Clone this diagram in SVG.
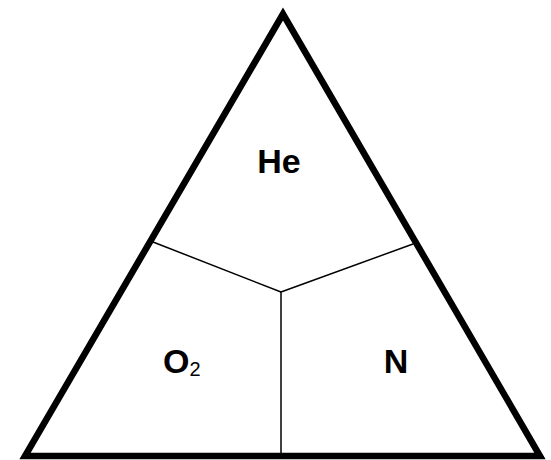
<svg xmlns="http://www.w3.org/2000/svg" width="551" height="460" viewBox="0 0 551 460">
<style>
.tri{fill:none;stroke:#000;stroke-width:6.5;stroke-linejoin:miter}
.div{fill:none;stroke:#000;stroke-width:1.5}
.lbl{font-family:"Liberation Sans",Arial,sans-serif;font-weight:bold;font-size:34px;fill:#000}
.sub{font-size:20px;font-weight:normal}
</style>
<rect width="551" height="460" fill="#fff"/>
<g id="triangle"><polygon class="tri" points="283,14 25,456 540,456"/></g>
<g id="connectors">
<line class="div" x1="153" y1="242" x2="281" y2="292"/>
<line class="div" x1="413" y1="244" x2="281" y2="292"/>
<line class="div" x1="281" y1="292" x2="281" y2="454"/>
</g>
<g id="he"><text class="lbl" x="279" y="173" text-anchor="middle">He</text></g>
<g id="o2"><text class="lbl" x="163" y="373">O<tspan class="sub" dy="3">2</tspan></text></g>
<g id="n"><text class="lbl" x="396" y="373" text-anchor="middle">N</text></g>
</svg>
